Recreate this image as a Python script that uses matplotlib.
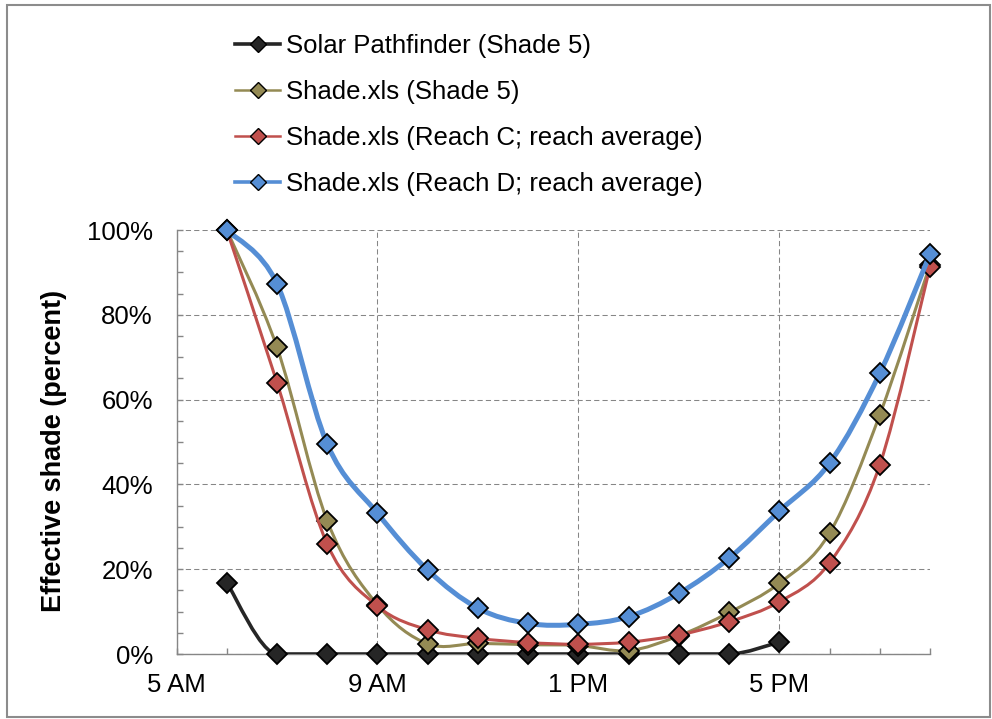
import numpy as np
import matplotlib
matplotlib.use('Agg')
import matplotlib.pyplot as plt
from matplotlib.path import Path
from matplotlib.patches import PathPatch, Rectangle
from matplotlib.lines import Line2D
from matplotlib.ticker import MultipleLocator, FixedLocator

plt.rcParams['font.family'] = ['Liberation Sans', 'DejaVu Sans']

# hour of day (24 h clock)
hours = [6, 7, 8, 9, 10, 11, 12, 13, 14, 15, 16, 17, 18, 19, 20]
pathfinder_hours = [6, 7, 8, 9, 10, 11, 12, 13, 14, 15, 16, 17]

# effective shade, percent
pathfinder = [16.8, 0, 0, 0, 0, 0, 0, 0, 0, 0, 0, 2.8]
shade5 = [100, 72.3, 31.4, 11.6, 2.4, 2.5, 2.2, 2.0, 0.8, 4.3, 9.8, 16.7, 28.5, 56.4, 91.8]
reach_c = [100, 64.0, 25.9, 11.3, 5.7, 3.7, 2.7, 2.3, 2.8, 4.5, 7.6, 12.3, 21.5, 44.6, 91.3]
reach_d = [100, 87.3, 49.5, 33.2, 19.8, 10.8, 7.2, 7.0, 8.8, 14.3, 22.6, 33.7, 45.0, 66.2, 94.3]

x_ticks = [5, 9, 13, 17]
x_labels = ['5 AM', '9 AM', '1 PM', '5 PM']
y_ticks = [0, 20, 40, 60, 80, 100]
y_labels = ['0%', '20%', '40%', '60%', '80%', '100%']

series_labels = ['Solar Pathfinder (Shade 5)', 'Shade.xls (Shade 5)',
                 'Shade.xls (Reach C; reach average)', 'Shade.xls (Reach D; reach average)']
colors = ['#262626', '#948A54', '#C0504D', '#558ED5']


def smooth_path(x, y, flat_extrema=False):
    """Bezier path through the points (Catmull-Rom style control points)."""
    pts = np.column_stack([np.asarray(x, float), np.asarray(y, float)])
    n = len(pts)
    tang = np.zeros_like(pts)
    for i in range(n):
        p_prev = pts[max(i - 1, 0)]
        p_next = pts[min(i + 1, n - 1)]
        tang[i] = (p_next - p_prev) / 6.0
        if flat_extrema and 0 < i < n - 1:
            if (pts[i, 1] - p_prev[1]) * (p_next[1] - pts[i, 1]) <= 0:
                tang[i, 1] = 0.0
    verts = [pts[0]]
    codes = [Path.MOVETO]
    for i in range(n - 1):
        verts += [pts[i] + tang[i], pts[i + 1] - tang[i + 1], pts[i + 1]]
        codes += [Path.CURVE4] * 3
    return Path(verts, codes)


fig = plt.figure(figsize=(9.92, 7.19), dpi=100)
ax = fig.add_axes([0.178, 0.0904, 0.7595, 0.5897])

series = [
    (pathfinder_hours, pathfinder, 2.6, True),
    (hours, shade5, 2.2, False),
    (hours, reach_c, 2.2, False),
    (hours, reach_d, 3.6, False),
]

handles = []
for k, ((xs, ys, lw, flat), color) in enumerate(zip(series, colors)):
    patch = PathPatch(smooth_path(xs, ys, flat), facecolor='none', edgecolor=color,
                      lw=lw, capstyle='round', joinstyle='round', zorder=3 + 2 * k)
    ax.add_patch(patch)
    ax.plot(xs, ys, ls='none', marker='D', ms=10.2, mfc=color, mec='black',
            mew=1.3, clip_on=False, zorder=4 + 2 * k)
    handles.append(Line2D([], [], color=color, lw=2.6 if k in (0, 3) else 1.8,
                          marker='D', ms=8, mfc=color, mec='black', mew=1.0))

ax.set_xlim(5, 20)
ax.set_ylim(0, 100)

ax.xaxis.set_major_locator(FixedLocator(x_ticks))
ax.set_xticklabels(x_labels)
ax.xaxis.set_minor_locator(MultipleLocator(1))
ax.yaxis.set_major_locator(FixedLocator(y_ticks))
ax.set_yticklabels(y_labels)
ax.yaxis.set_minor_locator(MultipleLocator(5))

grid_color = '#868686'
ax.grid(which='major', color=grid_color, lw=0.75, ls=(0, (5, 3)), zorder=1)
ax.set_axisbelow(True)
for side in ('top', 'right'):
    ax.spines[side].set_visible(False)
for side in ('left', 'bottom'):
    ax.spines[side].set_color(grid_color)
    ax.spines[side].set_linewidth(1.0)

ax.tick_params(which='both', direction='in', length=4.5, width=1.0, color=grid_color)
ax.tick_params(axis='x', labelsize=18.5, pad=14)
ax.tick_params(axis='y', labelsize=18.5, pad=17)

ax.set_ylabel('Effective shade (percent)', fontsize=19.5, fontweight='bold', va='center')
ax.yaxis.set_label_coords(-0.163, 0.479)

fig.legend(handles, series_labels, loc='upper left', bbox_to_anchor=(0.237, 0.953),
           frameon=False, fontsize=18.5, handlelength=1.75, handletextpad=0.25,
           labelspacing=0.86, borderpad=0, borderaxespad=0)

fig.patches.append(Rectangle((0.0071, 0.0028), 0.9904, 0.990, transform=fig.transFigure,
                             fill=False, edgecolor='#8c8c8c', lw=1.5))

fig.savefig('out.png', dpi=100)
